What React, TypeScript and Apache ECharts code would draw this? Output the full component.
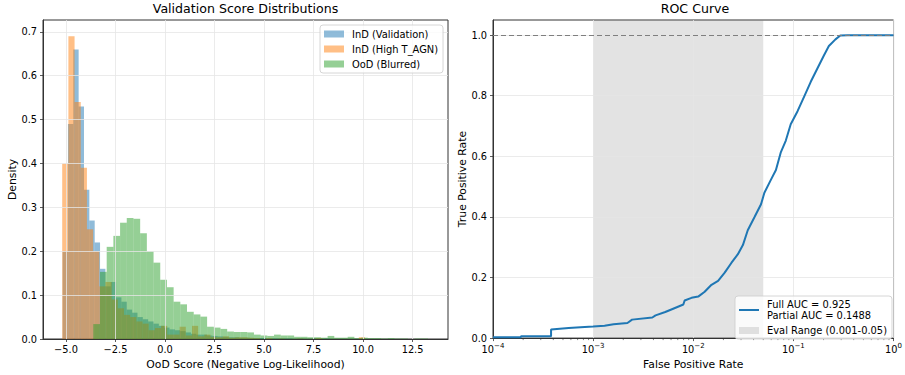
import React, { useEffect, useRef } from 'react';
import * as echarts from 'echarts';

// ---------- Left panel: histogram data ----------
const histXTicks = [-5, -2.5, 0, 2.5, 5, 7.5, 10, 12.5];
const histYTicks = [0, 0.1, 0.2, 0.3, 0.4, 0.5, 0.6, 0.7];

const blueName = 'InD (Validation)';
const blueStart = -5.17;
const blueBinWidth = 0.27;
const blueDensity = [
  0.2, 0.49, 0.66, 0.53, 0.34, 0.27, 0.22, 0.16, 0.12, 0.13,
  0.095, 0.085, 0.067, 0.06, 0.05, 0.045, 0.04, 0.035, 0.03, 0.026,
  0.022, 0.02, 0.018, 0.015, 0.012, 0.01, 0.01, 0.008, 0.007, 0.006,
  0.005, 0.004, 0.004, 0.003, 0.003, 0.002, 0.002, 0.002, 0.001, 0.001,
  0.001, 0.001, 0.001, 0, 0.001, 0, 0, 0.001, 0, 0.001,
];

const orangeName = 'InD (High T_AGN)';
const orangeStart = -5.19;
const orangeBinWidth = 0.312;
const orangeDensity = [
  0.4, 0.69, 0.54, 0.39, 0.25, 0.2, 0.12, 0.13, 0.09, 0.07,
  0.055, 0.05, 0.04, 0.035, 0.02, 0.025, 0.03, 0.01, 0.01, 0.028,
  0.008, 0.03, 0.006, 0.01, 0.005, 0.004, 0.006, 0.003, 0.004, 0.004,
  0.003, 0.002, 0, 0.002, 0, 0.001, 0, 0, 0.001, 0,
  0, 0.002, 0, 0, 0, 0, 0, 0, 0.004, 0,
];

const greenName = 'OoD (Blurred)';
const greenStart = -3.62;
const greenBinWidth = 0.338;
const greenDensity = [
  0.034, 0.153, 0.21, 0.235, 0.265, 0.276, 0.274, 0.241, 0.2, 0.174,
  0.135, 0.118, 0.085, 0.079, 0.062, 0.056, 0.051, 0.028, 0.026, 0.023,
  0.017, 0.016, 0.016, 0.015, 0.01, 0.008, 0.007, 0.01, 0.008, 0.008,
  0.005, 0.005, 0.004, 0.004, 0.003, 0.007, 0.003, 0.003, 0.005, 0.002,
  0.003, 0.002, 0.002, 0.001, 0.002, 0.001, 0.001, 0, 0.001, 0.001,
];

// ---------- Right panel: ROC data ----------
const rocName = 'Full AUC = 0.925\nPartial AUC = 0.1488';
const evalName = 'Eval Range (0.001-0.05)';
const evalRange = [0.001, 0.05];
const perfectLevel = 0.997;
const rocFpr = [
  1e-4, 1.9e-4, 1.9e-4, 3.8e-4, 3.8e-4, 5.7e-4, 7.5e-4, 1.0e-3, 1.3e-3, 1.6e-3,
  2.2e-3, 2.45e-3, 3.9e-3, 4.2e-3, 5.25e-3, 6.3e-3, 7.96e-3, 8.2e-3, 9.6e-3, 1.12e-2,
  1.3e-2, 1.52e-2, 1.77e-2, 2.06e-2, 2.4e-2, 2.79e-2, 3.13e-2, 3.5e-2, 4.08e-2, 4.75e-2,
  5.13e-2, 5.97e-2, 6.69e-2, 7.5e-2, 8.4e-2, 9.4e-2, 0.11, 0.128, 0.149, 0.173,
  0.201, 0.226, 0.263, 0.294, 0.35, 1.0,
];
const rocTpr = [
  0.003, 0.003, 0.006, 0.006, 0.028, 0.033, 0.036, 0.038, 0.041, 0.046,
  0.05, 0.061, 0.068, 0.075, 0.086, 0.097, 0.111, 0.124, 0.133, 0.137,
  0.153, 0.176, 0.189, 0.216, 0.248, 0.277, 0.307, 0.356, 0.399, 0.442,
  0.48, 0.523, 0.555, 0.614, 0.652, 0.706, 0.749, 0.797, 0.846, 0.889,
  0.932, 0.964, 0.986, 0.999, 1.0, 1.0,
];
const rocYTicks = [0, 0.2, 0.4, 0.6, 0.8, 1.0];
const rocDecades = [1e-4, 1e-3, 1e-2, 1e-1];
const minorMultipliers = [2, 3, 4, 5, 6, 7, 8, 9];

const FONT = 'DejaVu Sans';
const SPINE = '#333333';
const GRIDC = '#e6e6e6';
const TICKFS = 9.8;
// legend handle: a 2px line centred in a 20x7 box (zero-area slivers fix the box)
const LINE_ICON = 'path://M0,0 L20,0 L20,0.001 Z M0,2.5 L20,2.5 L20,4.5 L0,4.5 Z M0,7 L20,7 L20,6.999 Z';

const fmtMinus = (s: string) => s.replace('-', '\u2212');

function histSeries(name: string, start: number, width: number, dens: number[], color: string) {
  return {
    type: 'custom',
    name,
    xAxisIndex: 0,
    yAxisIndex: 0,
    z: 2,
    itemStyle: { color },
    encode: { x: [0, 1], y: 2 },
    data: dens.map((d, i) => [start + i * width, start + (i + 1) * width, d]),
    renderItem: (params: any, api: any) => {
      const h = api.value(2);
      if (!h) return null;
      const p0 = api.coord([api.value(0), h]);
      const p1 = api.coord([api.value(1), 0]);
      return {
        type: 'rect',
        shape: { x: p0[0], y: p0[1], width: p1[0] - p0[0], height: p1[1] - p0[1] },
        style: { fill: color },
      };
    },
  };
}

export default function App() {
  const ref = useRef<HTMLDivElement>(null);
  useEffect(() => {
    if (!ref.current) return;
    const chart = echarts.init(ref.current, null, { renderer: 'svg' });

    const minorTicks: number[] = [];
    rocDecades.forEach((d) => minorMultipliers.forEach((m) => minorTicks.push(d * m)));

    const tickLabel = { fontFamily: FONT, fontSize: TICKFS, color: '#000' };
    const axisName = { fontFamily: FONT, fontSize: 10.8, color: '#000' };
    const axisLine = { show: true, onZero: false, lineStyle: { color: SPINE, width: 1 } };
    const axisTick = { show: true, length: 3, lineStyle: { color: SPINE, width: 0.8 } };
    const splitLine = { show: true, lineStyle: { color: GRIDC, width: 0.8 } };

    const option: any = {
      animation: false,
      title: [
        {
          text: 'Validation Score Distributions',
          left: 245.5, top: 2, textAlign: 'center', padding: 0,
          textStyle: { fontFamily: FONT, fontSize: 12.6, fontWeight: 'normal', color: '#000' },
        },
        {
          text: 'ROC Curve',
          left: 695, top: 2, textAlign: 'center', padding: 0,
          textStyle: { fontFamily: FONT, fontSize: 12.6, fontWeight: 'normal', color: '#000' },
        },
      ],
      grid: [
        { left: 43, top: 20, width: 405, height: 324, show: true, borderColor: SPINE, borderWidth: 1, backgroundColor: 'transparent' },
        { left: 493, top: 20, width: 404, height: 325, show: true, borderColor: SPINE, borderWidth: 1, backgroundColor: 'transparent' },
      ],
      legend: [
        {
          data: [blueName, orangeName, greenName],
          orient: 'vertical', left: 320, top: 25,
          itemWidth: 20, itemHeight: 7, itemGap: 3, icon: 'rect',
          padding: [3, 5, 3, 4],
          backgroundColor: 'rgba(255,255,255,0.8)', borderColor: '#cccccc', borderWidth: 0.8, borderRadius: 3,
          textStyle: { fontFamily: FONT, fontSize: 9.9, color: '#000', lineHeight: 12, padding: [0, 0, 0, 3] },
          selectedMode: false,
        },
        {
          data: [
            { name: rocName, icon: LINE_ICON, itemStyle: { color: '#1f77b4', borderWidth: 0 } },
            { name: evalName, icon: 'rect', itemStyle: { color: 'rgba(128,128,128,0.22)', borderWidth: 0 } },
          ],
          orient: 'vertical', left: 735, top: 296,
          itemWidth: 20, itemHeight: 7, itemGap: 4,
          padding: [3, 5, 3, 4],
          backgroundColor: 'rgba(255,255,255,0.8)', borderColor: '#cccccc', borderWidth: 0.8, borderRadius: 3,
          textStyle: { fontFamily: FONT, fontSize: 9.9, color: '#000', lineHeight: 11, padding: [0, 0, 0, 3] },
          selectedMode: false,
        },
      ],
      xAxis: [
        {
          type: 'value', gridIndex: 0, min: -6.16, max: 14.29, z: 3,
          name: 'OoD Score (Negative Log-Likelihood)', nameLocation: 'middle', nameGap: 20, nameTextStyle: axisName,
          axisLine, axisTick: { ...axisTick, customValues: histXTicks },
          axisLabel: { ...tickLabel, margin: 5, customValues: histXTicks, formatter: (v: number) => fmtMinus(v.toFixed(1)) },
          splitLine,
        },
        {
          type: 'log', logBase: 10, gridIndex: 1, min: 1e-4, max: 1, splitNumber: 4, z: 1.5,
          name: 'False Positive Rate', nameLocation: 'middle', nameGap: 20, nameTextStyle: axisName,
          axisLine, axisTick,
          axisLabel: {
            ...tickLabel, margin: 4,
            formatter: (v: number) => '{b|10}{s|' + fmtMinus(String(Math.round(Math.log10(v)))) + '}',
            rich: {
              b: { fontFamily: FONT, fontSize: TICKFS, color: '#000' },
              s: { fontFamily: FONT, fontSize: 7, color: '#000', padding: [0, 0, 7, 0] },
            },
          },
          splitLine,
        },
      ],
      yAxis: [
        {
          type: 'value', gridIndex: 0, min: 0, max: 0.727, interval: 0.1, z: 3,
          name: 'Density', nameLocation: 'middle', nameGap: 25, nameTextStyle: axisName,
          axisLine, axisTick: { ...axisTick, customValues: histYTicks },
          axisLabel: { ...tickLabel, margin: 6, customValues: histYTicks, formatter: (v: number) => v.toFixed(1) },
          splitLine,
        },
        {
          type: 'value', gridIndex: 1, min: 0, max: 1.05, interval: 0.2, z: 1.5,
          name: 'True Positive Rate', nameLocation: 'middle', nameGap: 25, nameTextStyle: axisName,
          axisLine, axisTick: { ...axisTick, customValues: rocYTicks },
          axisLabel: { ...tickLabel, margin: 6, customValues: rocYTicks, formatter: (v: number) => v.toFixed(1) },
          splitLine,
        },
      ],
      series: [
        histSeries(blueName, blueStart, blueBinWidth, blueDensity, 'rgba(31,119,180,0.5)'),
        histSeries(orangeName, orangeStart, orangeBinWidth, orangeDensity, 'rgba(255,127,14,0.5)'),
        histSeries(greenName, greenStart, greenBinWidth, greenDensity, 'rgba(44,160,44,0.5)'),
        {
          type: 'custom',
          name: evalName,
          xAxisIndex: 1, yAxisIndex: 1, z: 1,
          itemStyle: { color: 'rgba(128,128,128,0.22)' },
          encode: { x: [0, 1], y: 2 },
          data: [[evalRange[0], evalRange[1], 0]],
          renderItem: (params: any, api: any) => {
            const a = api.coord([api.value(0), 0]);
            const b = api.coord([api.value(1), 0]);
            const cs = params.coordSys;
            return {
              type: 'rect',
              shape: { x: a[0], y: cs.y, width: b[0] - a[0], height: cs.height },
              style: { fill: 'rgba(128,128,128,0.22)' },
            };
          },
        },
        {
          type: 'line',
          name: rocName,
          xAxisIndex: 1, yAxisIndex: 1, z: 2,
          symbol: 'none', showSymbol: false,
          color: '#1f77b4',
          lineStyle: { color: '#1f77b4', width: 2 },
          data: rocFpr.map((f, i) => [f, rocTpr[i]]),
          markLine: {
            silent: true, symbol: ['none', 'none'], label: { show: false },
            lineStyle: { color: '#7f7f7f', type: [5, 3], width: 1.2 },
            data: [{ yAxis: perfectLevel }],
          },
        },
        {
          type: 'custom',
          name: 'minor-ticks',
          xAxisIndex: 1, yAxisIndex: 1, z: 3, silent: true, clip: false,
          data: minorTicks.map((v) => [v, 0]),
          renderItem: (params: any, api: any) => {
            const p = api.coord([api.value(0), 0]);
            return {
              type: 'line',
              shape: { x1: p[0], y1: p[1], x2: p[0], y2: p[1] + 2 },
              style: { stroke: SPINE, lineWidth: 0.6 },
            };
          },
        },
      ],
    };
    chart.setOption(option);
    return () => chart.dispose();
  }, []);
  return (
    <div
      ref={ref}
      style={{ position: 'absolute', left: 0, top: 0, width: 905, height: 375, background: '#fff' }}
    />
  );
}
